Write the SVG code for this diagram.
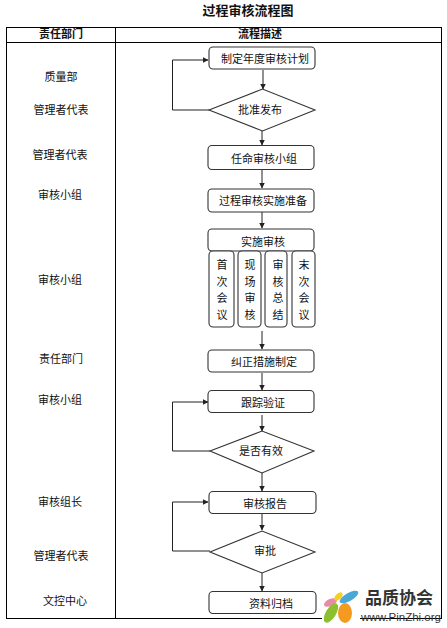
<svg xmlns="http://www.w3.org/2000/svg" width="447" height="628" viewBox="0 0 447 628">
<style>
text{font-family:"Noto Sans CJK SC","Liberation Sans",sans-serif;font-size:11px;fill:#111;text-anchor:middle}
.h{font-weight:700}
.n{fill:#fff;stroke:#333;stroke-width:1.1}
.c{fill:none;stroke:#222;stroke-width:1}
.grid{fill:none;stroke:#000;stroke-width:1}
</style>
<defs><marker id="a" markerWidth="6" markerHeight="6" refX="5.5" refY="3" orient="auto" markerUnits="userSpaceOnUse"><path d="M0 0L6 3L0 6Z" fill="#222"/></marker></defs>
<rect width="447" height="628" fill="#fff"/>
<text x="248" y="15" class="h" style="font-size:13px">过程审核流程图</text>
<g id="table"><rect class="grid" x="6.500" y="27.500" width="435" height="591"/><path class="grid" d="M115.500 27.500V618.500M6.500 42.500H441.500"/>
<text x="61" y="38" class="h">责任部门</text><text x="260" y="38" class="h">流程描述</text></g>
<g id="roles">
<text x="61" y="81">质量部</text><text x="61" y="114">管理者代表</text><text x="60" y="159">管理者代表</text><text x="60" y="199">审核小组</text><text x="60" y="284">审核小组</text><text x="61" y="363">责任部门</text><text x="60" y="404">审核小组</text><text x="60" y="506">审核组长</text><text x="61" y="560">管理者代表</text><text x="65" y="605">文控中心</text>
</g>
<g id="connectors">
<path class="c" marker-end="url(#a)" d="M263 70V89"/>
<path class="c" marker-end="url(#a)" d="M209 110H172.500V60H208"/>
<path class="c" marker-end="url(#a)" d="M262 131V145"/>
<path class="c" marker-end="url(#a)" d="M262 170V188"/>
<path class="c" marker-end="url(#a)" d="M262 212V228"/>
<path class="c" marker-end="url(#a)" d="M262 331V349"/>
<path class="c" marker-end="url(#a)" d="M262 373V390"/>
<path class="c" marker-end="url(#a)" d="M262 415V431"/>
<path class="c" marker-end="url(#a)" d="M210 451H172.500V402H208"/>
<path class="c" marker-end="url(#a)" d="M262 473V491"/>
<path class="c" marker-end="url(#a)" d="M262 513V530"/>
<path class="c" marker-end="url(#a)" d="M210 551H172.500V502H208"/>
<path class="c" marker-end="url(#a)" d="M262 573V591"/>
</g>
<g id="n1"><rect class="n" x="209" y="47" width="106" height="22" rx="4"/><text x="265" y="63">制定年度审核计划</text></g>
<g id="n2"><path class="n" d="M209 110L262.500 89L315 110L262.500 131Z"/><text x="260" y="114">批准发布</text></g>
<g id="n3"><rect class="n" x="208" y="145.500" width="106" height="24" rx="4"/><text x="264" y="163">任命审核小组</text></g>
<g id="n4"><rect class="n" x="208" y="189" width="106" height="23" rx="4"/><text x="263" y="205">过程审核实施准备</text></g>
<g id="n5"><rect class="n" x="208" y="229" width="106" height="22" rx="4"/><text x="263" y="246">实施审核</text></g>
<g id="n6"><rect class="n" x="209" y="251" width="25" height="76" rx="4"/><text x="222" y="269">首</text><text x="222" y="286">次</text><text x="222" y="302">会</text><text x="222" y="319">议</text></g>
<g id="n7"><rect class="n" x="238" y="251" width="23" height="76" rx="4"/><text x="250" y="269">现</text><text x="250" y="286">场</text><text x="250" y="302">审</text><text x="250" y="319">核</text></g>
<g id="n8"><rect class="n" x="265" y="251" width="22" height="76" rx="4"/><text x="278" y="269">审</text><text x="278" y="286">核</text><text x="278" y="302">总</text><text x="278" y="319">结</text></g>
<g id="n9"><rect class="n" x="292" y="251" width="23" height="76" rx="4"/><text x="304" y="269">末</text><text x="304" y="286">次</text><text x="304" y="302">会</text><text x="304" y="319">议</text></g>
<g id="n10"><rect class="n" x="208" y="350" width="106" height="22" rx="4"/><text x="264" y="366">纠正措施制定</text></g>
<g id="n11"><rect class="n" x="208" y="390.500" width="106" height="22" rx="4"/><text x="263" y="407">跟踪验证</text></g>
<g id="n12"><path class="n" d="M210 451L262 431L314 451L262 473Z"/><text x="261" y="455">是否有效</text></g>
<g id="n13"><rect class="n" x="209" y="491.500" width="107" height="22" rx="4"/><text x="265" y="508">审核报告</text></g>
<g id="n14"><path class="n" d="M210 552L262 531L315 552L262 573Z"/><text x="265" y="555">审批</text></g>
<g id="n15"><rect class="n" x="209" y="591.500" width="107" height="22" rx="4"/><text x="271" y="608">资料归档</text></g>
<g id="watermark">
<rect x="322" y="616" width="38" height="6" fill="#fff"/>
<ellipse cx="330.500" cy="602.500" rx="7" ry="3.500" fill="#e88aa8" transform="rotate(-25 330.500 602.500)"/>
<ellipse cx="338.500" cy="596.500" rx="5" ry="3" fill="#f5d020" transform="rotate(-45 338.500 596.500)"/>
<ellipse cx="349" cy="597" rx="10.500" ry="4" fill="#4aa8d8" transform="rotate(-30 349 597)"/>
<ellipse cx="331" cy="613" rx="11" ry="5" fill="#8cc030" transform="rotate(-58 331 613)"/>
<ellipse cx="345" cy="613" rx="7" ry="10" fill="#f59a20"/>
<text x="399" y="604" class="h" style="font-size:17px;fill:#333">品质协会</text>
<text x="401" y="621" style="font-family:'Liberation Sans',sans-serif;font-size:11.500px;fill:#333">www.PinZhi.org</text>
</g>
</svg>
